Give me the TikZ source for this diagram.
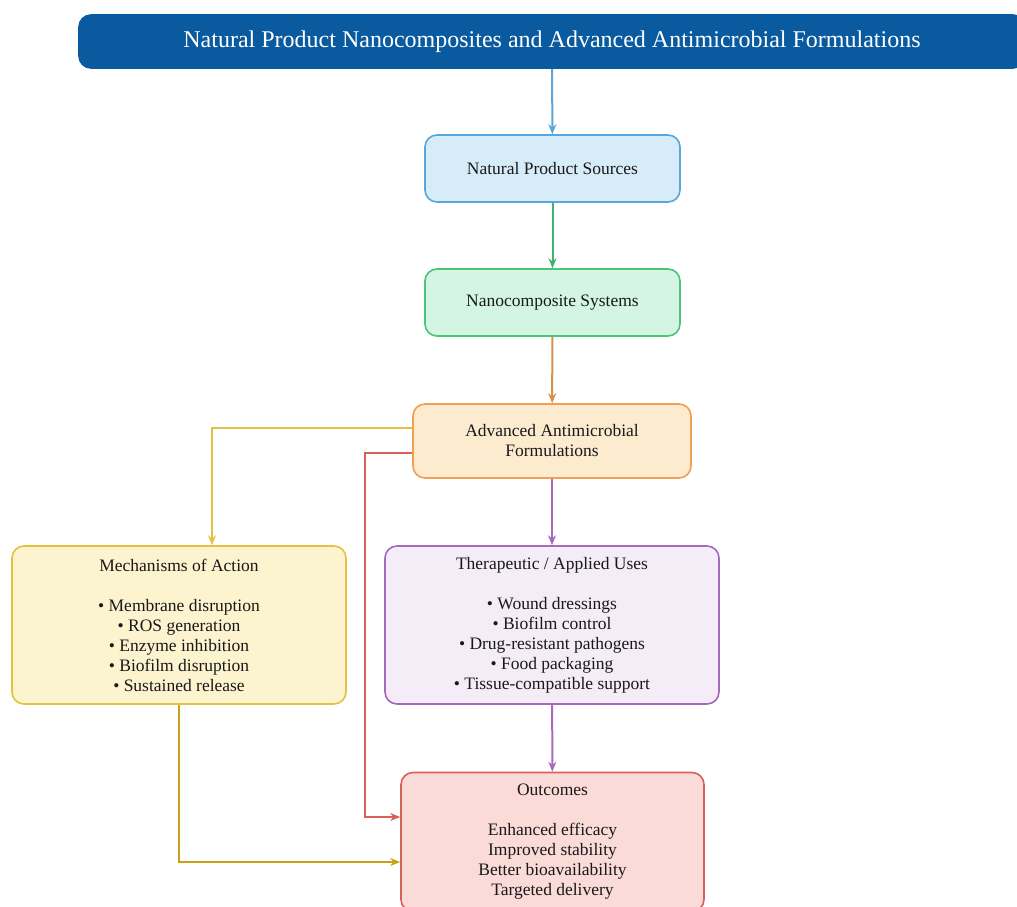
\documentclass[tikz,border=0pt]{standalone}
\usepackage{fontspec}
\setmainfont{Liberation Serif}
\usepackage{tikz}
\usetikzlibrary{arrows.meta}

\definecolor{titleblue}{HTML}{0A5AA0}
\definecolor{srcline}{HTML}{5AA5DA}
\definecolor{srcfill}{HTML}{D6ECF8}
\definecolor{nanoline}{HTML}{4CC47A}
\definecolor{nanofill}{HTML}{D5F5E3}
\definecolor{formline}{HTML}{F0A050}
\definecolor{formfill}{HTML}{FDEBD0}
\definecolor{mechline}{HTML}{E6C040}
\definecolor{mechfill}{HTML}{FCF3CF}
\definecolor{mechdark}{HTML}{C9A218}
\definecolor{useline}{HTML}{A569BD}
\definecolor{usefill}{HTML}{F4ECF7}
\definecolor{outline}{HTML}{D9605A}
\definecolor{outfill}{HTML}{FADBD8}

\tikzset{
  box/.style={draw, rounded corners=12pt, line width=1.6pt, align=center,
    font=\fontsize{17.5}{20}\selectfont, text=black!90},
  link/.style={line width=2pt, -{Stealth[length=10pt,width=8pt]}}
}

\begin{document}
\begin{tikzpicture}[x=1pt, y=-1pt]
  \useasboundingbox (0,0) rectangle (1017,906);

  % title banner
  \node[box, fill=titleblue, draw=titleblue, text=white,
    font=\fontsize{24}{26}\selectfont,
    minimum width=946pt, minimum height=53pt] (title) at (552,41.5)
    {Natural Product Nanocomposites and Advanced Antimicrobial Formulations};

  % main chain
  \node[box, fill=srcfill, draw=srcline, minimum width=255pt, minimum height=67pt]
    (src) at (552.5,168.5) {Natural Product Sources};
  \node[box, fill=nanofill, draw=nanoline, minimum width=255pt, minimum height=67pt]
    (nano) at (552.5,302.5) {Nanocomposite Systems};
  \node[box, fill=formfill, draw=formline, minimum width=278pt, minimum height=74pt]
    (form) at (552,441) {Advanced Antimicrobial\\Formulations};

  % branches
  \node[box, fill=mechfill, draw=mechline, minimum width=334pt, minimum height=158pt]
    (mech) at (179,625) {Mechanisms of Action\\[20pt]
      • Membrane disruption\\ • ROS generation\\ • Enzyme inhibition\\
      • Biofilm disruption\\ • Sustained release};
  \node[box, fill=usefill, draw=useline, minimum width=334pt, minimum height=158pt]
    (uses) at (552,625) {Therapeutic / Applied Uses\\[20pt]
      • Wound dressings\\ • Biofilm control\\ • Drug-resistant pathogens\\
      • Food packaging\\ • Tissue-compatible support};
  \node[box, fill=outfill, draw=outline, minimum width=303pt, minimum height=139pt]
    (out) at (552.5,842) {Outcomes\\[20pt]
      Enhanced efficacy\\ Improved stability\\ Better bioavailability\\
      Targeted delivery};

  % connectors
  \draw[link, draw=srcline] (title) -- (src);
  \draw[link, draw=nanoline!90!black] (src) -- (nano);
  \draw[link, draw=formline!90!black] (nano) -- (form);
  \draw[link, draw=useline] (form) -- (uses);
  \draw[link, draw=useline] (uses) -- (out);
  \draw[link, draw=mechline] ([yshift=13pt]form.west) -| ([xshift=33pt]mech.north);
  \draw[link, draw=outline] ([yshift=-12pt]form.west) -- ++(-47,0)
    |- ([yshift=25pt]out.west);
  \draw[link, draw=mechdark] (mech.south) |- ([yshift=-20pt]out.west);
\end{tikzpicture}
\end{document}
